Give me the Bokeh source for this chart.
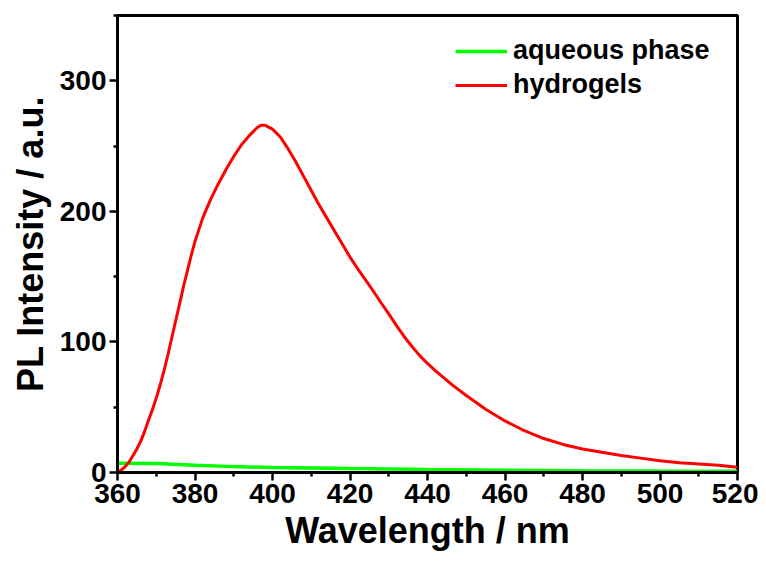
from bokeh.plotting import figure
from bokeh.models import Range1d, LinearAxis, Legend, LegendItem, FixedTicker
from bokeh.embed import file_html
from bokeh.resources import INLINE

# Data
hydro_wl = [360, 361, 362, 363, 364, 365, 366, 367, 368, 369, 370, 371, 372, 373, 374,
            375, 376, 377, 378, 379, 380, 382, 384, 386, 388,
            390, 392, 394, 396, 397, 398, 400, 402, 404, 406, 408, 410, 412, 414, 416, 418,
            420, 422, 424, 426, 428, 430, 432, 434, 436, 438, 440, 442, 444, 446, 448,
            450, 455, 460, 465, 470, 475, 480, 485, 490,
            495, 500, 505, 510, 515, 520]
hydro_pl = [0.5, 2, 4.5, 8, 13, 18, 24, 31.5, 40, 48, 57, 67, 78, 90, 103,
            116, 129, 142, 154, 166, 177, 195, 209, 221, 232,
            242, 251, 258, 264, 266, 266, 263, 257, 248, 238, 227, 216, 205, 195, 185, 175,
            165, 156, 147.5, 139, 130, 121.5, 112.5, 104, 96.5, 89.5, 83.5, 78, 73, 68, 63.5,
            59, 48.5, 39.5, 32, 26, 21.5, 18, 15.5, 13,
            11, 9, 7.5, 6.5, 5.5, 4]
aq_wl = [360, 370, 380, 390, 400, 420, 440, 460, 480, 500, 520]
aq_pl = [7, 6.8, 5.5, 4.5, 3.8, 3.0, 2.3, 1.8, 1.3, 1.1, 1.0]

x_major = [360, 380, 400, 420, 440, 460, 480, 500, 520]
x_minor = [370, 390, 410, 430, 450, 470, 490, 510]
y_major = [0, 100, 200, 300]
y_minor = [50, 150, 250, 350]

FONT = "Liberation Sans"

p = figure(width=758, height=553, output_backend="svg", toolbar_location=None,
           x_range=Range1d(360, 520), y_range=Range1d(0, 350),
           x_axis_location=None, y_axis_location=None,
           min_border_left=117, min_border_right=21, min_border_top=15, min_border_bottom=79)
p.grid.visible = False
p.background_fill_color = "white"
p.border_fill_color = "white"
p.outline_line_color = "black"
p.outline_line_width = 3

r_aq = p.line(aq_wl, aq_pl, line_color="#00ff00", line_width=3.5)
r_hy = p.line(hydro_wl, hydro_pl, line_color="#ff0000", line_width=3, line_join="round")

def style(ax):
    ax.axis_line_width = 3
    ax.axis_line_color = "black"
    ax.major_tick_line_width = 2.5
    ax.minor_tick_line_width = 2.5
    ax.major_tick_line_color = "black"
    ax.minor_tick_line_color = "black"
    ax.major_tick_in = 0
    ax.minor_tick_in = 0
    ax.major_tick_out = 8
    ax.minor_tick_out = 4
    ax.major_label_text_font = FONT
    ax.major_label_text_font_style = "bold"
    ax.major_label_text_font_size = "28px"
    ax.major_label_text_color = "black"
    ax.major_label_standoff = 3
    ax.axis_label_text_font = FONT
    ax.axis_label_text_font_style = "bold"
    ax.axis_label_text_font_size = "36px"
    ax.axis_label_text_color = "black"
    ax.axis_label_standoff = 4

xb = LinearAxis(ticker=FixedTicker(ticks=x_major, minor_ticks=x_minor), axis_label="Wavelength / nm")
style(xb)
p.add_layout(xb, "below")
yl = LinearAxis(ticker=FixedTicker(ticks=y_major, minor_ticks=y_minor), axis_label="PL Intensity / a.u.")
style(yl)
yl.axis_label_standoff = 6
p.add_layout(yl, "left")

legend = Legend(items=[LegendItem(label="aqueous phase", renderers=[r_aq]),
                       LegendItem(label="hydrogels", renderers=[r_hy])],
                location=(333, 367))
legend.label_text_font = FONT
legend.label_text_font_style = "bold"
legend.label_text_font_size = "27px"
legend.label_text_color = "black"
legend.glyph_width = 52
legend.label_standoff = 6
legend.padding = 5
legend.margin = 0
legend.spacing = 3
legend.border_line_alpha = 0
legend.background_fill_alpha = 0
p.add_layout(legend, "center")

open("out.html", "w").write(file_html(p, INLINE))
